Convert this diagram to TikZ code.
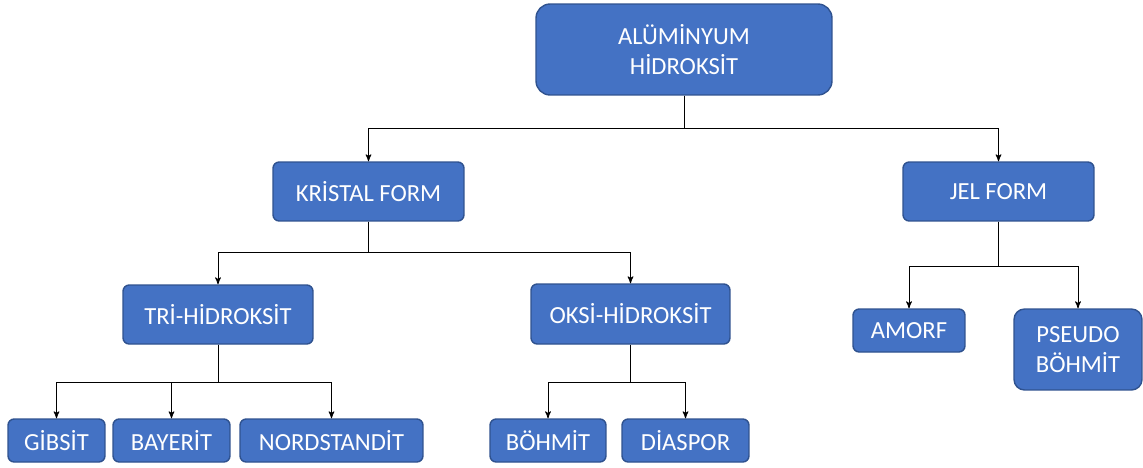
\documentclass[tikz,border=0pt]{standalone}
\usepackage{fontspec}
\setmainfont{Carlito}
\usepackage{tikz}
\usetikzlibrary{arrows,positioning}
\definecolor{boxfill}{HTML}{4472C4}
\definecolor{boxline}{HTML}{2F528F}

\begin{document}
\begin{tikzpicture}[x=0.02cm,y=-0.02cm,
    main node/.style={rectangle,rounded corners=3.5pt,draw=boxline,line width=0.8pt,
      fill=boxfill,text=white,inner sep=0pt,align=center,
      font=\fontsize{14}{17.5}\selectfont},
    link/.style={->,>=stealth',black,line width=0.5pt}]

  \useasboundingbox (0,0) rectangle (1143,467);

  % Define boxes by coordinates
  \node[main node,minimum width=5.92cm,minimum height=1.82cm,rounded corners=8pt] (A) at (684,49.5) {ALÜMİNYUM\\HİDROKSİT};
  \node[main node,minimum width=3.82cm,minimum height=1.18cm] (K) at (368.5,191.5) {KRİSTAL FORM};
  \node[main node,minimum width=3.82cm,minimum height=1.18cm] (J) at (998.5,191.5) {JEL FORM};
  \node[main node,minimum width=3.80cm,minimum height=1.18cm] (T) at (218,314.5) {TRİ-HİDROKSİT};
  \node[main node,minimum width=3.98cm,minimum height=1.20cm] (O) at (630.5,314) {OKSİ-HİDROKSİT};
  \node[main node,minimum width=2.24cm,minimum height=0.86cm] (AM) at (909,330.5) {AMORF};
  \node[main node,minimum width=2.56cm,minimum height=1.62cm,rounded corners=6pt] (P) at (1078,349.5) {PSEUDO\\BÖHMİT};
  \node[main node,minimum width=1.94cm,minimum height=0.86cm] (G) at (56.5,440.5) {GİBSİT};
  \node[main node,minimum width=2.34cm,minimum height=0.86cm] (BA) at (171.5,440.5) {BAYERİT};
  \node[main node,minimum width=3.66cm,minimum height=0.86cm] (N) at (331.5,440.5) {NORDSTANDİT};
  \node[main node,minimum width=2.32cm,minimum height=0.86cm] (BO) at (548,440.5) {BÖHMİT};
  \node[main node,minimum width=2.54cm,minimum height=0.86cm] (D) at (685.5,440.5) {DİASPOR};

  % Draw tree links
  \draw[link] (A.south) -- ++(0,33) -| (K.north);
  \draw[link] (A.south) -- ++(0,33) -| (J.north);
  \draw[link] (K.south) -- ++(0,31) -| (T.north);
  \draw[link] (K.south) -- ++(0,31) -| (O.north);
  \draw[link] (J.south) -- ++(0,45) -| (AM.north);
  \draw[link] (J.south) -- ++(0,45) -| (P.north);
  \draw[link] (T.south) -- ++(0,38) -| (G.north);
  \draw[link] (T.south) -- ++(0,38) -| (BA.north);
  \draw[link] (T.south) -- ++(0,38) -| (N.north);
  \draw[link] (O.south) -- ++(0,38) -| (BO.north);
  \draw[link] (O.south) -- ++(0,38) -| (D.north);
\end{tikzpicture}
\end{document}
